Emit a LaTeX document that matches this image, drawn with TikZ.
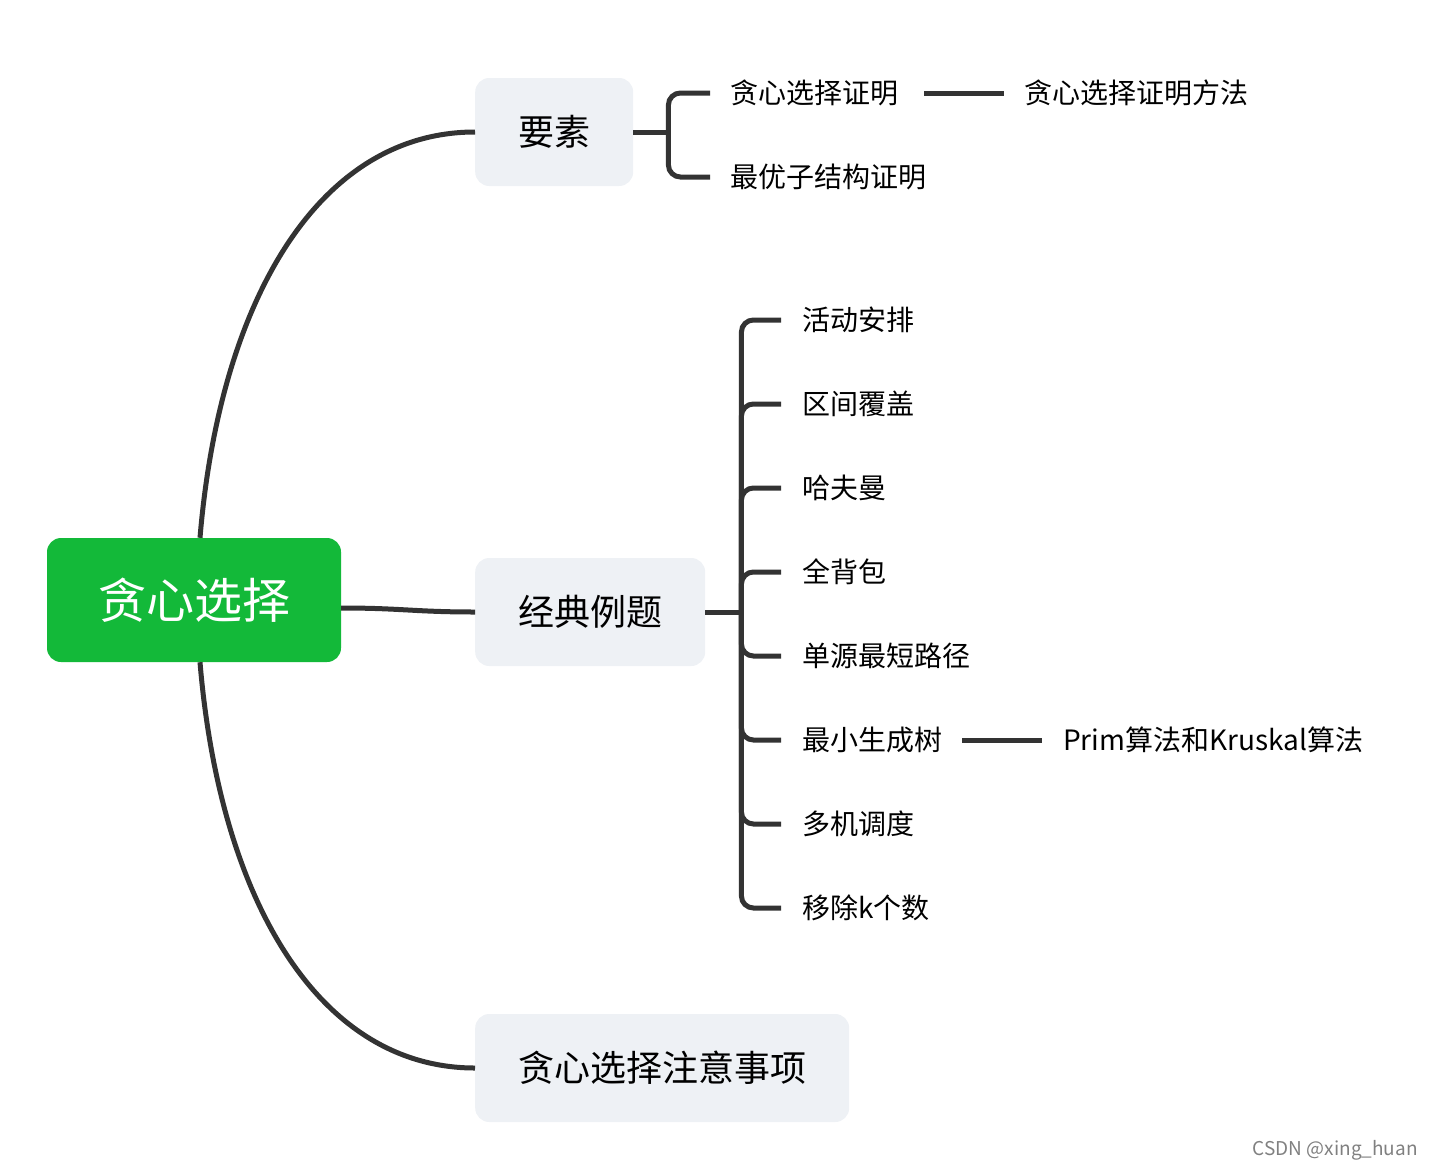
\documentclass[tikz,border=0pt]{standalone}
\usepackage{fontspec}
\setmainfont{Noto Sans CJK SC}
\usepackage{xcolor}
\definecolor{rootgreen}{HTML}{13B939}
\definecolor{topicgray}{HTML}{EEF1F5}
\definecolor{linegray}{HTML}{333333}
\newcommand{\fs}[1]{\fontsize{#1}{#1}\selectfont}

\begin{document}
\begin{tikzpicture}[x=1pt,y=-1pt,
    root/.style={fill=rootgreen,text=white,rounded corners=14,minimum width=294,minimum height=124,font=\fs{48}},
    topic/.style={fill=topicgray,rounded corners=14,anchor=west,inner xsep=43,minimum height=108,font=\fs{36}},
    leaf/.style={anchor=west,inner sep=0,font=\fs{28}},
    conn/.style={line width=5,draw=linegray},
    brace/.style={conn,rounded corners=12}]
  \useasboundingbox (0,0) rectangle (1432,1170);
  % main nodes
  \node[root] (R) at (194,600) {贪心选择};
  \node[topic] (Y) at (475,132) {要素};
  \node[topic] (J) at (475,612) {经典例题};
  \node[topic] (Z) at (475,1068) {贪心选择注意事项};
  \draw [conn] ([xshift=6]R.north) .. controls +(20,-240) and +(-155,0) .. (Y.west);
  \draw [conn] ([xshift=6]R.south) .. controls +(20,240) and +(-155,0) .. (Z.west);
  \draw [conn] ([yshift=-8]R.east) .. controls +(60,0) and +(-60,0) .. (J.west);
  % 要素
  \node[leaf] (Y1) at (730,93) {贪心选择证明};
  \node[leaf] (Y2) at (730,177) {最优子结构证明};
  \node[leaf] (Y11) at (1024,93) {贪心选择证明方法};
  \coordinate (yb) at ([xshift=35]Y.east);
  \draw [conn] (Y.east) -- (yb);
  \draw [brace] (yb) |- ([xshift=-20]Y1.west);
  \draw [brace] (yb) |- ([xshift=-20]Y2.west);
  \draw [conn] ([xshift=26]Y1.east) -- ([xshift=-20]Y11.west |- Y1.east);
  % 经典例题
  \coordinate (jb) at ([xshift=36]J.east);
  \draw [conn] (J.east) -- (jb);
  \foreach \t [count=\i] in {活动安排,区间覆盖,哈夫曼,全背包,单源最短路径,最小生成树,多机调度,移除k个数} {
    \node[leaf] (J\i) at (802,{320+84*(\i-1)}) {\t};
    \draw [brace] (jb) |- ([xshift=-21]J\i.west);
  }
  \node[leaf] (J61) at (1063,740) {Prim算法和Kruskal算法};
  \draw [conn] ([xshift=20]J6.east) -- ([xshift=-21]J61.west |- J6.east);
  % watermark
  \node[anchor=east,inner sep=0,text=black!50,font=\fs{19}] (W) at (1418,1150) {CSDN @xing\_huan};
\end{tikzpicture}
\end{document}
